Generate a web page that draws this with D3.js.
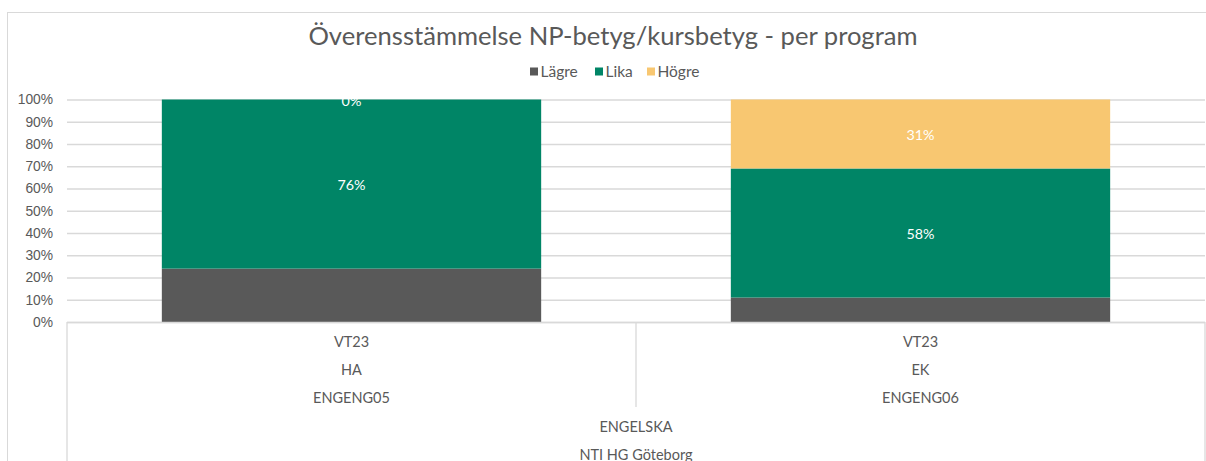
<!DOCTYPE html>
<html>
<head>
<meta charset="utf-8">
<script src="https://cdn.jsdelivr.net/npm/d3@7"></script>
<style>
  body { margin: 0; background: #fff; }
  svg { display: block; font-family: "Century Gothic", "Lato", "Noto Sans", sans-serif; }
</style>
</head>
<body>
<div id="chart"></div>
<script>
// ---- data ----
const title = "Överensstämmelse NP-betyg/kursbetyg - per program";
const seriesNames = ["Lägre", "Lika", "Högre"];
const seriesColors = ["#595959", "#008566", "#f8c771"];
const terms = ["VT23", "VT23"];
const programs = ["HA", "EK"];
const courses = ["ENGENG05", "ENGENG06"];
const subject = "ENGELSKA";
const school = "NTI HG Göteborg";
const lagre = [0.24, 0.11];
const lika = [0.76, 0.58];
const hogre = [0.00, 0.31];
const yTicks = [0, 0.1, 0.2, 0.3, 0.4, 0.5, 0.6, 0.7, 0.8, 0.9, 1];

// ---- layout ----
const W = 1206, H = 461;
const plot = { left: 67, right: 1205, top: 99.5, bottom: 322 };
const textColor = "#595959";
const gridColor = "#d9d9d9";

const svg = d3.select("#chart").append("svg")
  .attr("width", W)
  .attr("height", H);

// chart frame
svg.append("rect")
  .attr("x", 7.5).attr("y", 12.5)
  .attr("width", W + 20).attr("height", H + 20)
  .attr("fill", "#fff")
  .attr("stroke", gridColor);

const rows = terms.map((t, i) => ({
  key: i, Lägre: lagre[i], Lika: lika[i], Högre: hogre[i]
}));

const x = d3.scaleBand()
  .domain(rows.map(d => d.key))
  .range([plot.left, plot.right])
  .padding(0);

const y = d3.scaleLinear()
  .domain([0, 1])
  .range([plot.bottom, plot.top]);

const barW = x.bandwidth() / 1.5;

// title
svg.append("text")
  .attr("x", 613).attr("y", 39)
  .attr("text-anchor", "middle")
  .attr("dominant-baseline", "middle")
  .attr("fill", textColor)
  .style("font-size", "25.6px")
  .text(title);

// legend
const legendPos = [530, 595, 647];
const legend = svg.append("g");
seriesNames.forEach((n, i) => {
  const g = legend.append("g").attr("transform", `translate(${legendPos[i]},72)`);
  g.append("rect").attr("x", 0).attr("y", -4.5).attr("width", 8).attr("height", 8)
    .attr("fill", seriesColors[i]);
  g.append("text").attr("x", 10.5).attr("y", 1)
    .attr("dominant-baseline", "middle")
    .attr("fill", textColor)
    .style("font-size", "15.5px")
    .text(n);
});

// y gridlines + ticks
const yAxis = d3.axisLeft(y)
  .tickValues(yTicks)
  .tickFormat(d3.format(".0%"))
  .tickSize(-(plot.right - plot.left))
  .tickPadding(14);

const yg = svg.append("g")
  .attr("transform", `translate(${plot.left},0)`)
  .call(yAxis);
yg.select(".domain").remove();
yg.selectAll(".tick line").attr("stroke", gridColor).attr("stroke-width", 1.3);
yg.selectAll(".tick text")
  .attr("fill", textColor)
  .style("font-size", "13.8px")
  .style("font-family", "inherit");

// stacked bars
const stack = d3.stack().keys(seriesNames);
const layers = stack(rows);

svg.append("defs").append("clipPath").attr("id", "plotclip")
  .append("rect")
  .attr("x", plot.left).attr("y", plot.top - 2)
  .attr("width", plot.right - plot.left).attr("height", plot.bottom - plot.top + 2);

const barsG = svg.append("g");
layers.forEach((layer, li) => {
  barsG.selectAll(null)
    .data(layer)
    .join("rect")
    .attr("x", d => x(d.data.key) + (x.bandwidth() - barW) / 2)
    .attr("y", d => y(d[1]))
    .attr("width", barW)
    .attr("height", d => y(d[0]) - y(d[1]))
    .attr("fill", seriesColors[li]);
});

// data labels (Lägre segments have no label in the reference)
const labelG = svg.append("g").attr("clip-path", "url(#plotclip)");
layers.forEach((layer, li) => {
  if (li === 0) return;
  labelG.selectAll(null)
    .data(layer)
    .join("text")
    .attr("x", d => x(d.data.key) + x.bandwidth() / 2)
    .attr("y", d => y((d[0] + d[1]) / 2) + 2.5)
    .attr("text-anchor", "middle")
    .attr("dominant-baseline", "middle")
    .attr("fill", "#fff")
    .style("font-size", "14.3px")
    .text(d => d3.format(".0%")(d[1] - d[0]));
});

// multi-level category axis
const axG = svg.append("g").attr("stroke", gridColor).attr("stroke-width", 1.3);
axG.append("line")
  .attr("x1", plot.left).attr("x2", plot.right)
  .attr("y1", plot.bottom + 0.5).attr("y2", plot.bottom + 0.5);
axG.append("line")
  .attr("x1", plot.left).attr("x2", plot.left)
  .attr("y1", plot.bottom).attr("y2", H);
axG.append("line")
  .attr("x1", plot.right).attr("x2", plot.right)
  .attr("y1", plot.bottom).attr("y2", H);
axG.selectAll(null)
  .data(rows.slice(1))
  .join("line")
  .attr("x1", d => x(d.key)).attr("x2", d => x(d.key))
  .attr("y1", plot.bottom).attr("y2", 407);

const levels = [terms, programs, courses];
const levelY = [343, 371, 399];
const catG = svg.append("g")
  .attr("fill", textColor)
  .style("font-size", "14.5px")
  .attr("text-anchor", "middle")
  .attr("dominant-baseline", "middle");
levels.forEach((lvl, li) => {
  catG.selectAll(null)
    .data(rows)
    .join("text")
    .attr("x", d => x(d.key) + x.bandwidth() / 2)
    .attr("y", levelY[li])
    .text(d => lvl[d.key]);
});
const mid = (plot.left + plot.right) / 2;
catG.append("text").attr("x", mid).attr("y", 428).text(subject);
catG.append("text").attr("x", mid).attr("y", 456).text(school);
</script>
</body>
</html>
